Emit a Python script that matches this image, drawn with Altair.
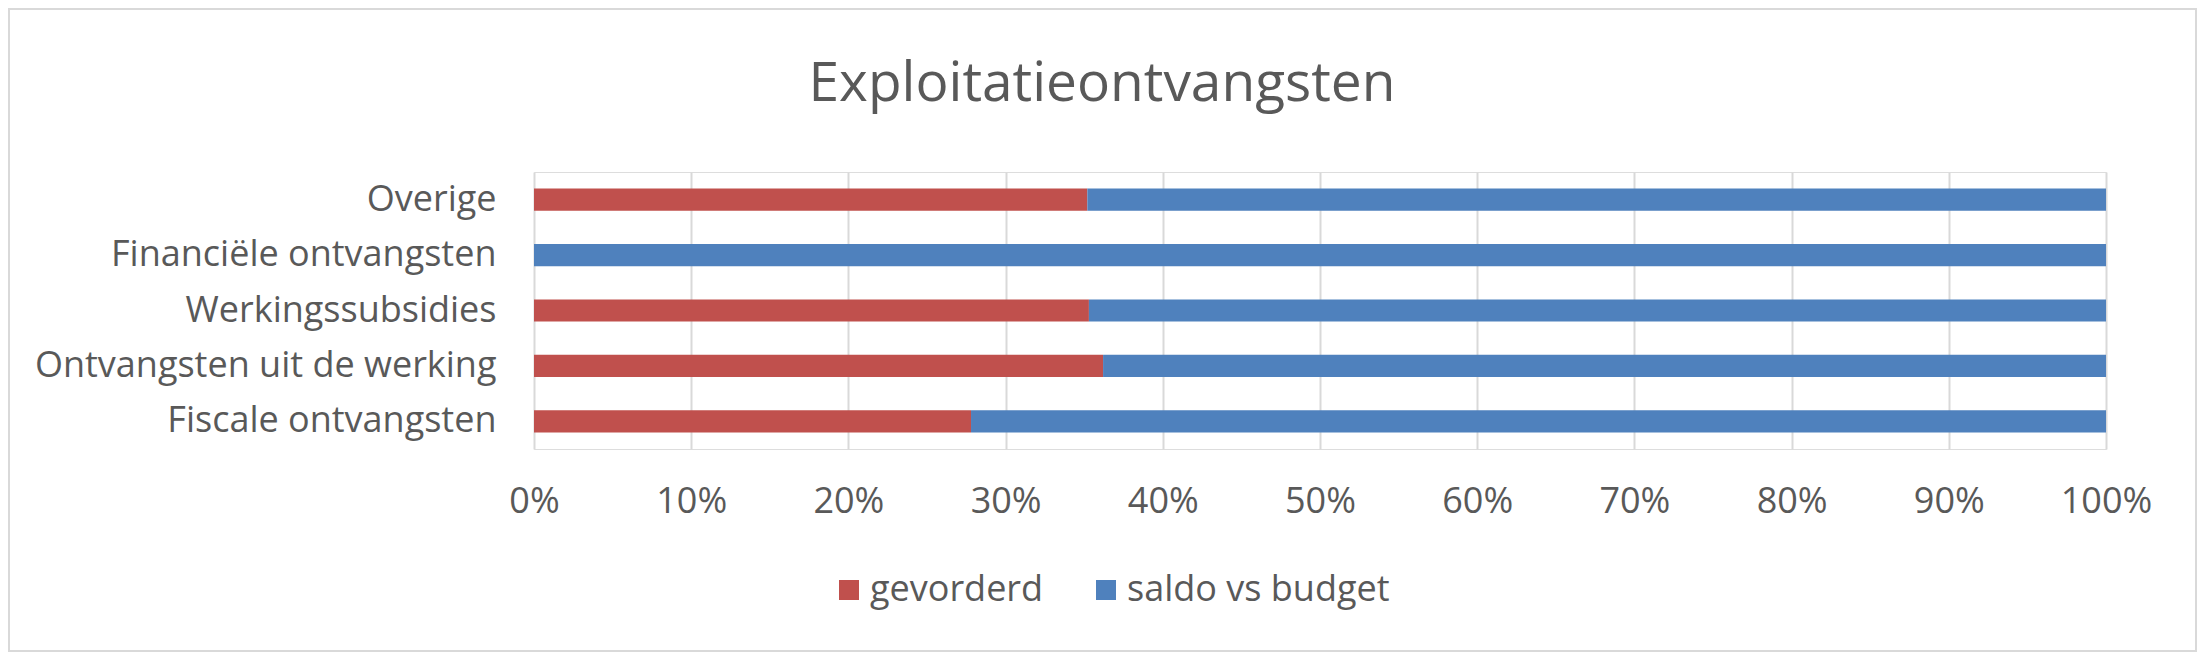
import altair as alt
import pandas as pd

categories = ["Overige", "Financiële ontvangsten", "Werkingssubsidies",
              "Ontvangsten uit de werking", "Fiscale ontvangsten\u00a0"]
series_names = ["gevorderd", "saldo vs budget"]
gevorderd = [35.2, 0.0, 35.3, 36.2, 27.8]
saldo = [64.8, 100.0, 64.7, 63.8, 72.2]
tick_values = [0, 10, 20, 30, 40, 50, 60, 70, 80, 90, 100]
colors = ["#C0504D", "#4F81BD"]

rows = []
for c, g, s in zip(categories, gevorderd, saldo):
    rows.append({"cat": c, "series": series_names[0], "value": g, "rank": 0})
    rows.append({"cat": c, "series": series_names[1], "value": s, "rank": 1})
df = pd.DataFrame(rows)

W, H = 1572, 277
PL, PT, PR, PB = 526, 164, 91, 203
FONT = "Open Sans"
TXT = "#595959"

bars = alt.Chart(df).mark_bar().encode(
    y=alt.Y("cat:N", sort=categories, title=None,
            scale=alt.Scale(paddingInner=0.6, paddingOuter=0.3),
            axis=alt.Axis(labelFontSize=36, labelFont=FONT, labelColor=TXT,
                          labelPadding=38, domain=False, ticks=False, grid=False,
                          labelLimit=1000)),
    x=alt.X("value:Q", stack="zero", title=None,
            scale=alt.Scale(domain=[0, 100], nice=False),
            axis=alt.Axis(values=tick_values, labelExpr="datum.value + '%'",
                          labelFontSize=36, labelFont=FONT, labelColor=TXT,
                          labelPadding=35, domain=False, ticks=False,
                          labelFlush=False, labelOverlap=False,
                          grid=True, gridColor="#D9D9D9", gridWidth=2)),
    color=alt.Color("series:N",
                    scale=alt.Scale(domain=series_names, range=colors),
                    legend=alt.Legend(orient="none", legendX=297, legendY=400,
                                      direction="horizontal", title=None,
                                      symbolType="square", symbolSize=400,
                                      symbolStrokeWidth=0, labelFontSize=36,
                                      labelFont=FONT, labelColor=TXT,
                                      columnPadding=44, labelOffset=3,
                                      labelLimit=1000, padding=0)),
    order=alt.Order("rank:Q"),
)

border = alt.Chart(alt.Data(values=[{}])).mark_rect(
    fillOpacity=0, stroke="#D9D9D9", strokeWidth=2
).encode(
    x=alt.value(-PL + 1), x2=alt.value(W + PR - 1),
    y=alt.value(-PT + 1), y2=alt.value(H + PB - 1),
)

chart = alt.layer(bars, border).properties(
    width=W, height=H,
    autosize=alt.AutoSizeParams(type="none"),
    padding={"left": PL, "top": PT, "right": PR, "bottom": PB},
    title=alt.TitleParams("Exploitatieontvangsten", fontSize=55, font=FONT,
                          color=TXT, fontWeight="normal", anchor="middle",
                          baseline="alphabetic", offset=0, dy=148, dx=-218),
).configure_view(stroke=None).configure(background="white")

chart.save("out.html", embed_options={"renderer": "svg", "actions": False})
